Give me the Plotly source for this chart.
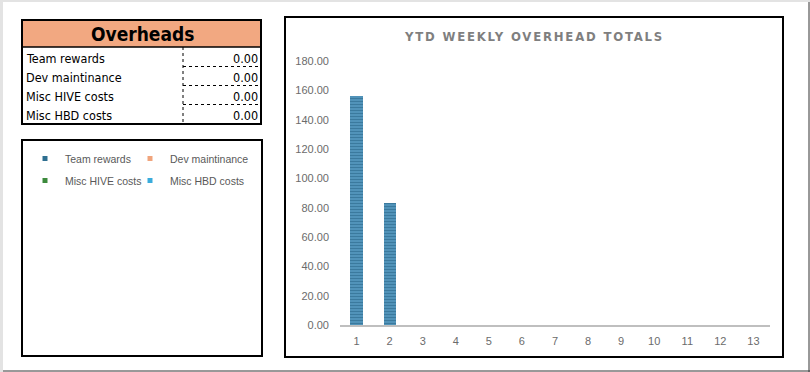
import plotly.graph_objects as go

# ---------------- data ----------------
weeks = [str(i) for i in range(1, 14)]
team_rewards = [156, 83, 0, 0, 0, 0, 0, 0, 0, 0, 0, 0, 0]
dev_maintinance = [0] * 13
misc_hive_costs = [0] * 13
misc_hbd_costs = [0] * 13
series_names = ["Team rewards", "Dev maintinance", "Misc HIVE costs", "Misc HBD costs"]
series_colors = ["#2E6F90", "#F0A47C", "#3C8A3C", "#3AACDC"]
table_title = "Overheads"
table_labels = ["Team rewards", "Dev maintinance", "Misc HIVE costs", "Misc HBD costs"]
table_values = [0.00, 0.00, 0.00, 0.00]
chart_title = "YTD WEEKLY OVERHEAD TOTALS"

W, H = 810, 372


def px(x):
    return x / W


def py(y):
    return 1 - y / H


fig = go.Figure()

series_values = [team_rewards, dev_maintinance, misc_hive_costs, misc_hbd_costs]
for name, vals, col in zip(series_names, series_values, series_colors):
    fig.add_trace(go.Bar(
        x=weeks, y=vals, name=name, showlegend=False,
        marker=dict(
            color=col,
            line=dict(width=0),
            pattern=dict(shape="-", fgcolor="#1B5575", bgcolor="#5A9FC6", size=3, solidity=0.55)
            if name == "Team rewards" else None,
        ),
    ))

# legend proxies (small square markers), two columns
legend_of = ["legend", "legend2", "legend", "legend2"]
for i, (name, col) in enumerate(zip(series_names, series_colors)):
    fig.add_trace(go.Scatter(
        x=[None], y=[None], mode="markers", name=name,
        marker=dict(symbol="square", size=5, color=col),
        legend=legend_of[i], legendgroup=name,
    ))

shapes = []


def rect(x0, y0, x1, y1, color="black", width=2, dash="solid", fill=None):
    shapes.append(dict(type="rect", xref="paper", yref="paper",
                       x0=px(x0), x1=px(x1), y0=py(y0), y1=py(y1),
                       line=dict(color=color, width=width, dash=dash),
                       fillcolor=fill, layer="below"))


def line(x0, y0, x1, y1, color="black", width=1, dash="solid"):
    shapes.append(dict(type="line", xref="paper", yref="paper",
                       x0=px(x0), x1=px(x1), y0=py(y0), y1=py(y1),
                       line=dict(color=color, width=width, dash=dash)))


# outer frame
shapes.append(dict(type="rect", xref="paper", yref="paper", x0=0, x1=1, y0=py(2), y1=1,
                   line=dict(width=0), fillcolor="#E3E3E3"))
shapes.append(dict(type="rect", xref="paper", yref="paper", x0=0, x1=px(3), y0=0, y1=1,
                   line=dict(width=0), fillcolor="#E3E3E3"))
line(3, 371, 810, 371, color="#333333", width=1)
line(809, 2, 809, 372, color="#333333", width=1)

# table
rect(22, 20, 261, 47, color="black", width=0, fill="#F2A881")
rect(22, 20, 261, 124, color="black", width=2)
line(22, 47, 261, 47, width=1.5)
line(183, 47, 183, 124, width=1, dash="dot")
for yy in [66.5, 85.5, 104.5]:
    line(183, yy, 261, yy, width=1, dash="dot")

# legend box & chart box
rect(22, 140, 262, 356, width=2)
rect(285, 17, 783, 357, width=2)

annotations = [
    dict(text="<b>%s</b>" % table_title, x=px(142), y=py(34), xref="paper", yref="paper",
         showarrow=False, font=dict(family="DejaVu Sans Condensed", size=19, color="black"),
         xanchor="center", yanchor="middle"),
    dict(text='<span style="letter-spacing:1.8px">%s</span>' % chart_title,
         x=px(534), y=py(36), xref="paper", yref="paper", showarrow=False,
         font=dict(family="DejaVu Sans Condensed", size=13, color="#7F7F7F", weight="bold"),
         xanchor="center", yanchor="middle"),
]
row_centers = [58.5, 77.5, 96.5, 115.5]
for lab, val, yc in zip(table_labels, table_values, row_centers):
    annotations.append(dict(text=lab, x=px(24), y=py(yc), xref="paper", yref="paper",
                            showarrow=False, xanchor="left", yanchor="middle",
                            font=dict(family="DejaVu Sans Condensed", size=12.5, color="black")))
    annotations.append(dict(text="%.2f" % val, x=px(260), y=py(yc), xref="paper", yref="paper",
                            showarrow=False, xanchor="right", yanchor="middle",
                            font=dict(family="DejaVu Sans Condensed", size=12.5, color="black")))

legend_common = dict(orientation="v", xanchor="left", yanchor="top", traceorder="grouped",
                     font=dict(family="Liberation Sans", size=10.5, color="#595959"),
                     bgcolor="rgba(0,0,0,0)", itemwidth=30, tracegroupgap=3)

fig.update_layout(
    width=W, height=H,
    margin=dict(l=0, r=0, t=0, b=0, autoexpand=False),
    paper_bgcolor="white", plot_bgcolor="white",
    barmode="stack", bargap=0.63,
    font=dict(family="Liberation Sans", size=11, color="#595959"),
    xaxis=dict(domain=[px(340), px(770)], showgrid=False, showline=True,
               linecolor="#BFBFBF", linewidth=2, ticks="", zeroline=False,
               tickfont=dict(size=11, color="#6B6B6B"), ticklabelstandoff=5),
    yaxis=dict(domain=[py(325), py(61)], range=[0, 180], dtick=20, tickformat=".2f",
               showgrid=False, showline=False, zeroline=False, ticks="",
               tickfont=dict(size=11, color="#6B6B6B"), ticklabelstandoff=10),
    legend=dict(x=px(25), y=py(144), **legend_common),
    legend2=dict(x=px(130), y=py(144), **legend_common),
    shapes=shapes,
    annotations=annotations,
)

fig.write_html("out.html", config={"displayModeBar": False},
               post_script="document.body.style.margin='0';document.body.style.overflow='hidden';")
